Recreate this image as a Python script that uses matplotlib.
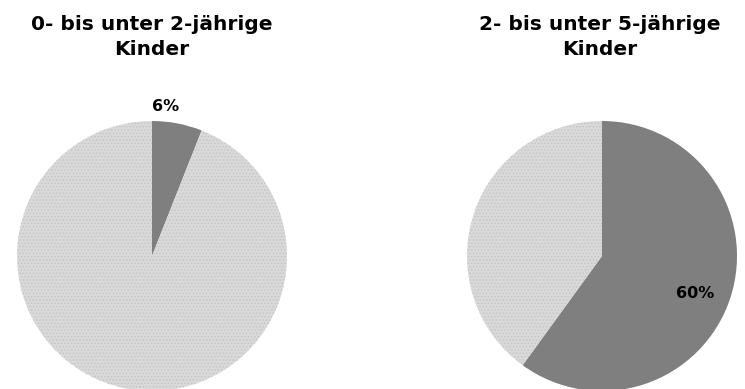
import matplotlib
matplotlib.use("Agg")
from matplotlib import pyplot as plt

plt.rcParams['font.family'] = ['DejaVu Sans']
plt.rcParams['hatch.linewidth'] = 0.6

# data
titles = ["0- bis unter 2-jährige\nKinder", "2- bis unter 5-jährige\nKinder"]
shares = [6, 60]          # percent in dark slice
labels = ["6%", "60%"]

DARK = '#7f7f7f'
LIGHT = '#d9d9d9'
DOTS = '#c4c4c4'

px = 1 / 100
fig = plt.figure(figsize=(745 * px, 389 * px), dpi=100)

R = 135
centers = [(152, 256), (602, 256)]

for i, (cx, cy) in enumerate(centers):
    ax = fig.add_axes([(cx - R) / 745, (389 - cy - R) / 389, 2 * R / 745, 2 * R / 389])
    wedges, _ = ax.pie([shares[i], 100 - shares[i]], colors=[DARK, LIGHT],
                       startangle=90, counterclock=False, radius=1,
                       wedgeprops=dict(linewidth=0))
    ax.set_xlim(-1, 1)
    ax.set_ylim(-1, 1)
    ax.axis('off')
    wedges[1].set_hatch('.....')
    wedges[1].set_edgecolor(DOTS)
    wedges[1].set_linewidth(0)
    if i == 0:
        ax.text(0.1, 1.11, labels[i], ha='center', va='center',
                fontsize=11.5, fontweight='bold', clip_on=False)
    else:
        ax.text(0.69, -0.28, labels[i], ha='center', va='center',
                fontsize=11.5, fontweight='bold', clip_on=False)

fig.text(152 / 745, 1 - 37 / 389, titles[0], ha='center', va='center',
         fontsize=14.5, fontweight='bold', linespacing=1.4)
fig.text(600 / 745, 1 - 37 / 389, titles[1], ha='center', va='center',
         fontsize=14.5, fontweight='bold', linespacing=1.4)

fig.savefig('out.png', dpi=100)
